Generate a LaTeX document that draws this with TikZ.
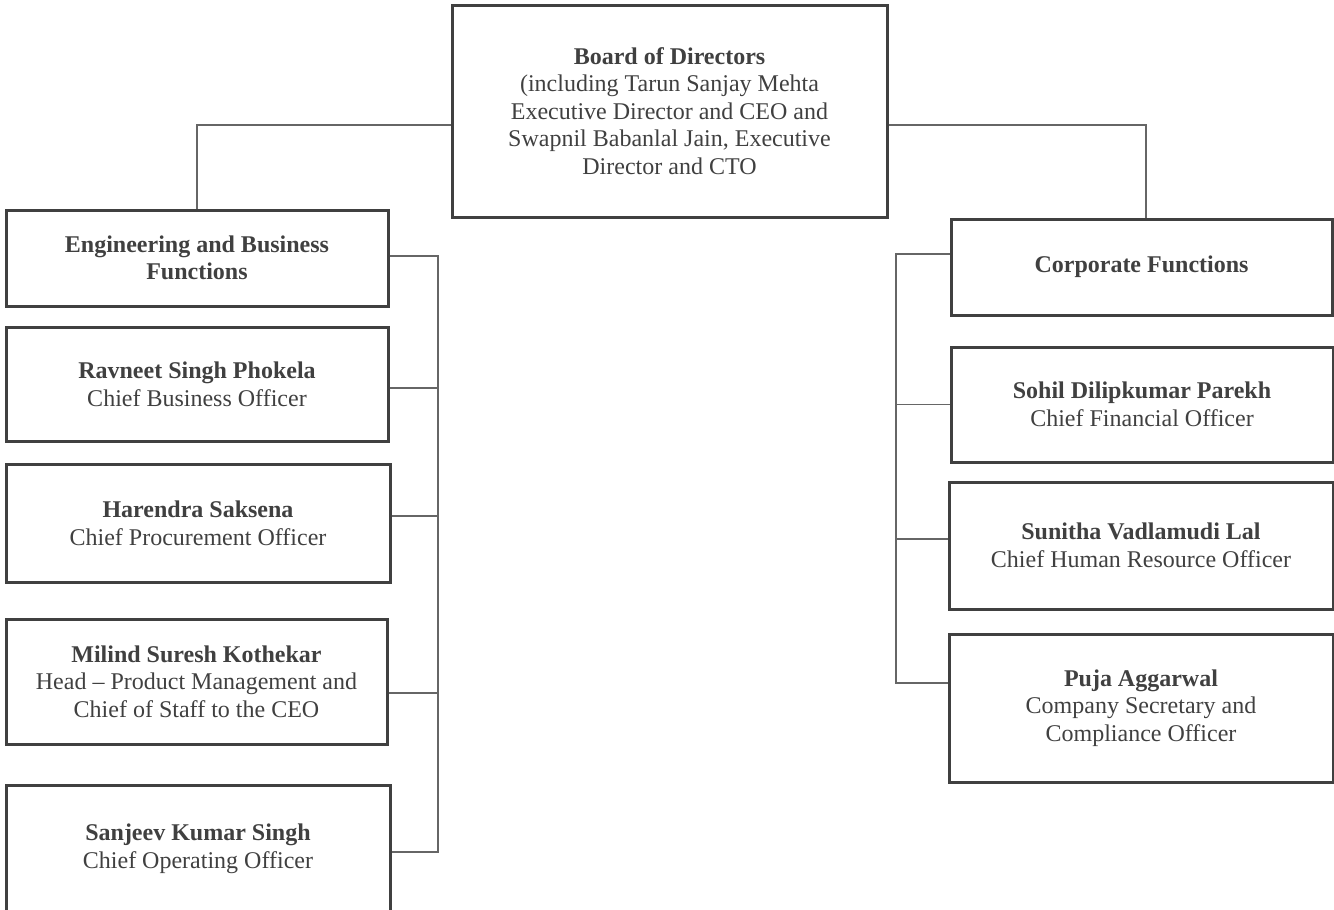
\documentclass[tikz,border=0pt]{standalone}
\usepackage{fontspec}
\setmainfont{Liberation Serif}
\definecolor{orgInk}{HTML}{404040}
\definecolor{orgLine}{HTML}{666666}
\usetikzlibrary{positioning}

\begin{document}
\begin{tikzpicture}[
  x=1pt,y=-1pt,
  orgbox/.style={draw=orgInk,line width=3pt,text=orgInk,align=center,
                 inner sep=0pt,font=\fontsize{24}{27.6}\selectfont},
  link/.style={draw=orgLine,line width=1.5pt},
]
  \useasboundingbox (0,0) rectangle (1334,910);

  % top
  \node[orgbox,minimum width=435pt,minimum height=212pt] (board) at (669.5,111)
    {\textbf{Board of Directors}\\(including Tarun Sanjay Mehta\\Executive Director and CEO and\\Swapnil Babanlal Jain, Executive\\Director and CTO};

  % left column
  \node[orgbox,minimum width=382pt,minimum height=96pt]  (eng) at (197,258)
    {\textbf{Engineering and Business}\\\textbf{Functions}};
  \node[orgbox,minimum width=382pt,minimum height=114pt] (rav) at (197,384)
    {\textbf{Ravneet Singh Phokela}\\Chief Business Officer};
  \node[orgbox,minimum width=384pt,minimum height=118pt] (har) at (198,523)
    {\textbf{Harendra Saksena}\\Chief Procurement Officer};
  \node[orgbox,minimum width=381pt,minimum height=125pt] (mil) at (196.5,681.5)
    {\textbf{Milind Suresh Kothekar}\\Head -- Product Management and\\Chief of Staff to the CEO};
  \node[orgbox,minimum width=384pt,minimum height=127pt] (san) at (198,848.5)
    {\textbf{Sanjeev Kumar Singh}\\Chief Operating Officer};

  % right column
  \node[orgbox,minimum width=381pt,minimum height=96pt]  (corp) at (1141.5,267)
    {\textbf{Corporate Functions}};
  \node[orgbox,minimum width=382pt,minimum height=115pt] (soh) at (1142,404.5)
    {\textbf{Sohil Dilipkumar Parekh}\\Chief Financial Officer};
  \node[orgbox,minimum width=384pt,minimum height=127pt] (sun) at (1141,545.5)
    {\textbf{Sunitha Vadlamudi Lal}\\Chief Human Resource Officer};
  \node[orgbox,minimum width=384pt,minimum height=148pt] (puj) at (1141,708)
    {\textbf{Puja Aggarwal}\\Company Secretary and\\Compliance Officer};

  % board to the two groups
  \draw[link] ([yshift=-14pt]board.west) -| (eng.north);
  \draw[link] ([yshift=-14pt]board.east) -| ([xshift=4.5pt]corp.north);

  % left bus
  \coordinate (lbus) at (438,256);
  \draw[link] ([yshift=2pt]eng.east) -| (lbus) |- ([yshift=-3.5pt]san.east);
  \draw[link] ([yshift=-4pt]rav.east) -- ([yshift=-4pt]rav.east -| lbus);
  \draw[link] ([yshift=7pt]har.east) -- ([yshift=7pt]har.east -| lbus);
  \draw[link] ([yshift=-11.5pt]mil.east) -- ([yshift=-11.5pt]mil.east -| lbus);

  % right bus
  \coordinate (rbus) at (896,254);
  \draw[link] ([yshift=13pt]corp.west) -| (rbus) |- ([yshift=25pt]puj.west);
  \draw[link] (soh.west) -- (soh.west -| rbus);
  \draw[link] ([yshift=6.5pt]sun.west) -- ([yshift=6.5pt]sun.west -| rbus);
\end{tikzpicture}
\end{document}
